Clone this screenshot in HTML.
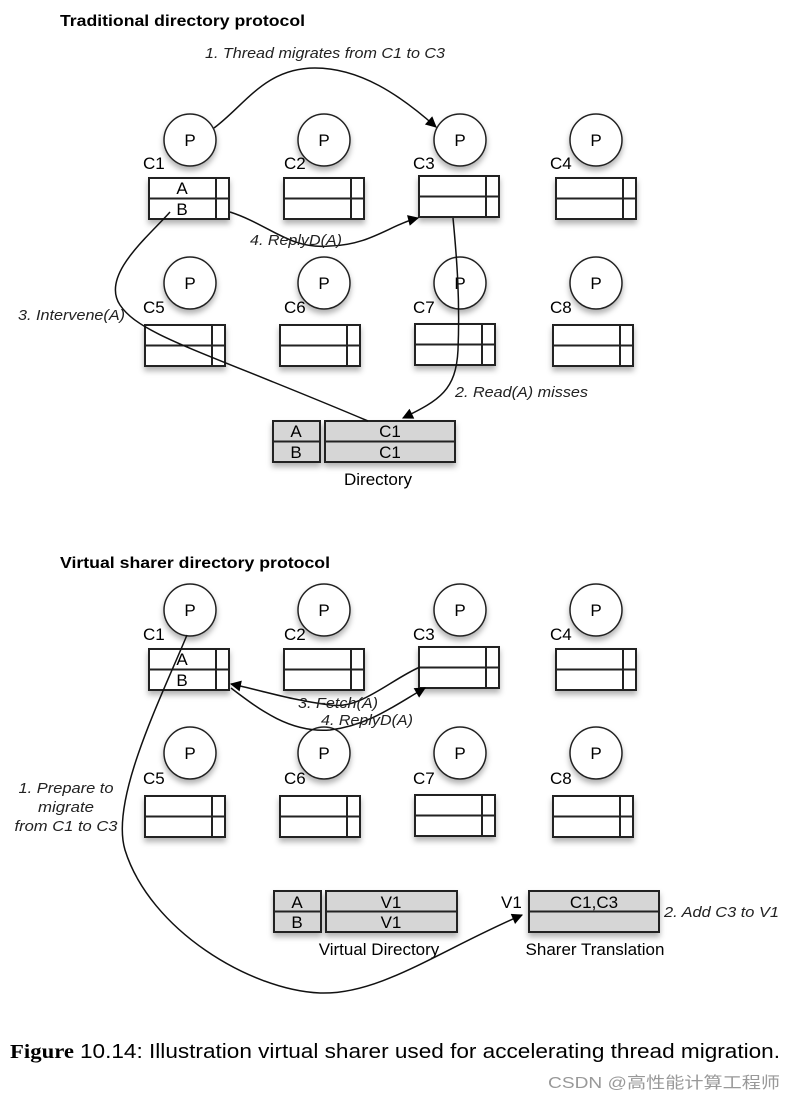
<!DOCTYPE html>
<html><head><meta charset="utf-8"><style>
html,body{margin:0;padding:0;background:#fff}
svg{display:block}
text{font-family:"Liberation Sans",Arial,Helvetica,"Noto Sans CJK SC",sans-serif;fill:#000}
.lab{font-size:17px}
.it{font-size:15px;font-style:italic;fill:#222}
.b{font-size:16px;font-weight:bold}
</style></head><body>
<svg width="794" height="1101" viewBox="0 0 794 1101" xmlns="http://www.w3.org/2000/svg" font-family="Liberation Sans, Arial, sans-serif">
<defs>
<marker id="ah" viewBox="0 0 10 10" refX="9" refY="5" markerWidth="13" markerHeight="11" orient="auto-start-reverse" markerUnits="userSpaceOnUse"><path d="M0,0 L10,5 L0,10 z" fill="#000"/></marker>
<filter id="sh" x="-20%" y="-20%" width="140%" height="160%"><feDropShadow dx="0" dy="4" stdDeviation="3" flood-color="#000" flood-opacity="0.3"/></filter>
<g id="cache"><rect x="0" y="0" width="80" height="41" fill="#fff" stroke="#222" stroke-width="2"/><line x1="0" y1="20.5" x2="80" y2="20.5" stroke="#222" stroke-width="2"/><line x1="67" y1="0" x2="67" y2="41" stroke="#222" stroke-width="2"/></g>
<g id="proc"><circle cx="0" cy="0" r="26" fill="#fff" stroke="#222" stroke-width="1.5"/><text x="0" y="6" text-anchor="middle" class="lab">P</text></g>
</defs>

<text x="60" y="26" class="b" textLength="245" lengthAdjust="spacingAndGlyphs">Traditional directory protocol</text>
<text x="205" y="58" class="it" textLength="240" lengthAdjust="spacingAndGlyphs">1. Thread migrates from C1 to C3</text>

<g filter="url(#sh)">
<use href="#proc" x="190" y="140"/><use href="#proc" x="324" y="140"/><use href="#proc" x="460" y="140"/><use href="#proc" x="596" y="140"/>
<use href="#proc" x="190" y="283"/><use href="#proc" x="324" y="283"/><use href="#proc" x="460" y="283"/><use href="#proc" x="596" y="283"/>
<use href="#cache" x="149" y="178"/><use href="#cache" x="284" y="178"/><use href="#cache" x="419" y="176"/><use href="#cache" x="556" y="178"/>
<use href="#cache" x="145" y="325"/><use href="#cache" x="280" y="325"/><use href="#cache" x="415" y="324"/><use href="#cache" x="553" y="325"/>
</g>
<text x="182" y="194" class="lab" text-anchor="middle">A</text>
<text x="182" y="215" class="lab" text-anchor="middle">B</text>
<text x="143" y="169" class="lab">C1</text><text x="284" y="169" class="lab">C2</text><text x="413" y="169" class="lab">C3</text><text x="550" y="169" class="lab">C4</text>
<text x="143" y="313" class="lab">C5</text><text x="284" y="313" class="lab">C6</text><text x="413" y="313" class="lab">C7</text><text x="550" y="313" class="lab">C8</text>

<g filter="url(#sh)">
<rect x="273" y="421" width="47" height="41" fill="#d6d6d6" stroke="#222" stroke-width="2"/>
<line x1="273" y1="441.5" x2="320" y2="441.5" stroke="#222" stroke-width="2"/>
<rect x="325" y="421" width="130" height="41" fill="#d6d6d6" stroke="#222" stroke-width="2"/>
<line x1="325" y1="441.5" x2="455" y2="441.5" stroke="#222" stroke-width="2"/>
</g>
<text x="296" y="437" class="lab" text-anchor="middle">A</text><text x="296" y="458" class="lab" text-anchor="middle">B</text>
<text x="390" y="437" class="lab" text-anchor="middle">C1</text><text x="390" y="458" class="lab" text-anchor="middle">C1</text>
<text x="378" y="485" class="lab" text-anchor="middle">Directory</text>

<g fill="none" stroke="#111" stroke-width="1.5">
<path d="M214,128 C245,105 265,68 315,68 C360,68 400,95 436,127" marker-end="url(#ah)"/>
<path d="M230,212 C270,225 290,250 330,246 C370,245 390,225 418,218" marker-end="url(#ah)"/>
<path d="M170,212 C150,235 100,275 120,305 C140,335 200,350 368,421"/>
<path d="M453,218 C457,260 460,300 458,350 C456,390 440,400 403,418" marker-end="url(#ah)"/>
</g>
<text x="250" y="245" class="it" textLength="92" lengthAdjust="spacingAndGlyphs">4. ReplyD(A)</text>
<text x="18" y="320" class="it" textLength="107" lengthAdjust="spacingAndGlyphs">3. Intervene(A)</text>
<text x="455" y="397" class="it" textLength="133" lengthAdjust="spacingAndGlyphs">2. Read(A) misses</text>

<text x="60" y="568" class="b" textLength="270" lengthAdjust="spacingAndGlyphs">Virtual sharer directory protocol</text>
<g filter="url(#sh)">
<use href="#proc" x="190" y="610"/><use href="#proc" x="324" y="610"/><use href="#proc" x="460" y="610"/><use href="#proc" x="596" y="610"/>
<use href="#proc" x="190" y="753"/><use href="#proc" x="324" y="753"/><use href="#proc" x="460" y="753"/><use href="#proc" x="596" y="753"/>
<use href="#cache" x="149" y="649"/><use href="#cache" x="284" y="649"/><use href="#cache" x="419" y="647"/><use href="#cache" x="556" y="649"/>
<use href="#cache" x="145" y="796"/><use href="#cache" x="280" y="796"/><use href="#cache" x="415" y="795"/><use href="#cache" x="553" y="796"/>
</g>
<text x="182" y="665" class="lab" text-anchor="middle">A</text>
<text x="182" y="686" class="lab" text-anchor="middle">B</text>
<text x="143" y="640" class="lab">C1</text><text x="284" y="640" class="lab">C2</text><text x="413" y="640" class="lab">C3</text><text x="550" y="640" class="lab">C4</text>
<text x="143" y="784" class="lab">C5</text><text x="284" y="784" class="lab">C6</text><text x="413" y="784" class="lab">C7</text><text x="550" y="784" class="lab">C8</text>

<g filter="url(#sh)">
<rect x="274" y="891" width="47" height="41" fill="#d6d6d6" stroke="#222" stroke-width="2"/>
<line x1="274" y1="911.5" x2="321" y2="911.5" stroke="#222" stroke-width="2"/>
<rect x="326" y="891" width="131" height="41" fill="#d6d6d6" stroke="#222" stroke-width="2"/>
<line x1="326" y1="911.5" x2="457" y2="911.5" stroke="#222" stroke-width="2"/>
<rect x="529" y="891" width="130" height="41" fill="#d6d6d6" stroke="#222" stroke-width="2"/>
<line x1="529" y1="911.5" x2="659" y2="911.5" stroke="#222" stroke-width="2"/>
</g>
<text x="297" y="908" class="lab" text-anchor="middle">A</text><text x="297" y="928" class="lab" text-anchor="middle">B</text>
<text x="391" y="908" class="lab" text-anchor="middle">V1</text><text x="391" y="928" class="lab" text-anchor="middle">V1</text>
<text x="594" y="908" class="lab" text-anchor="middle">C1,C3</text>
<text x="501" y="908" class="lab">V1</text>
<text x="379" y="955" class="lab" text-anchor="middle">Virtual Directory</text>
<text x="595" y="955" class="lab" text-anchor="middle">Sharer Translation</text>
<text x="664" y="917" class="it" textLength="115" lengthAdjust="spacingAndGlyphs">2. Add C3 to V1</text>

<g fill="none" stroke="#111" stroke-width="1.5">
<path d="M187,635 C160,700 110,800 125,850 C150,930 250,990 320,993 C380,995 440,950 522,915" marker-end="url(#ah)"/>
<path d="M420,667 C390,680 360,710 330,705 C290,700 260,690 231,684" marker-end="url(#ah)"/>
<path d="M231,688 C260,710 290,733 330,730 C370,725 395,705 425,688" marker-end="url(#ah)"/>
</g>
<text x="298" y="708" class="it" textLength="80" lengthAdjust="spacingAndGlyphs">3. Fetch(A)</text>
<text x="321" y="725" class="it" textLength="92" lengthAdjust="spacingAndGlyphs">4. ReplyD(A)</text>
<text x="66" y="793" class="it" text-anchor="middle" textLength="95" lengthAdjust="spacingAndGlyphs">1. Prepare to</text>
<text x="66" y="812" class="it" text-anchor="middle" textLength="56" lengthAdjust="spacingAndGlyphs">migrate</text>
<text x="66" y="831" class="it" text-anchor="middle" textLength="103" lengthAdjust="spacingAndGlyphs">from C1 to C3</text>

<text x="10" y="1058" style="font-family:'Liberation Serif',serif;font-weight:bold;font-size:20px" textLength="64" lengthAdjust="spacingAndGlyphs">Figure</text>
<text x="80" y="1058" style="font-size:20px" textLength="700" lengthAdjust="spacingAndGlyphs">10.14: Illustration virtual sharer used for accelerating thread migration.</text>
<text x="548" y="1088" style="font-size:16px;fill:#999" textLength="232" lengthAdjust="spacingAndGlyphs">CSDN @高性能计算工程师</text>
</svg>
</body></html>
